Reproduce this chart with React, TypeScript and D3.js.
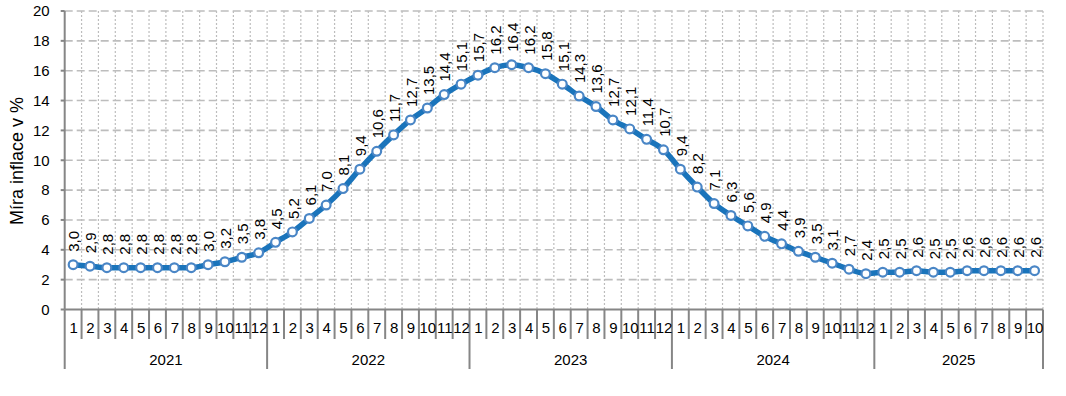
import React from "react";
import * as d3 from "d3";

const years = ["2021", "2022", "2023", "2024", "2025"];
const monthsPerYear = [12, 12, 12, 12, 10];
const inflation = [
  3.0, 2.9, 2.8, 2.8, 2.8, 2.8, 2.8, 2.8, 3.0, 3.2, 3.5, 3.8,
  4.5, 5.2, 6.1, 7.0, 8.1, 9.4, 10.6, 11.7, 12.7, 13.5, 14.4, 15.1,
  15.7, 16.2, 16.4, 16.2, 15.8, 15.1, 14.3, 13.6, 12.7, 12.1, 11.4, 10.7,
  9.4, 8.2, 7.1, 6.3, 5.6, 4.9, 4.4, 3.9, 3.5, 3.1, 2.7, 2.4,
  2.5, 2.5, 2.6, 2.5, 2.5, 2.6, 2.6, 2.6, 2.6, 2.6,
];
const yTicks = [0, 2, 4, 6, 8, 10, 12, 14, 16, 18, 20];
const yTitle = "Míra inflace v %";

const W = 1066;
const H = 396;
const left = 64.7;
const right = 1043;
const top = 11;
const bottom = 309.5;

export default function App() {
  const points = [];
  years.forEach((y, yi) => {
    for (let m = 1; m <= monthsPerYear[yi]; m++) points.push({ year: y, month: m });
  });
  const data = points.map((p, i) => ({ ...p, v: inflation[i], key: i }));

  const x = d3.scaleBand<number>().domain(data.map((d) => d.key)).range([left, right]).padding(0);
  const y = d3.scaleLinear().domain([0, 20]).range([bottom, top]);
  const cx = (i: number) => (x(i) as number) + x.bandwidth() / 2;

  const line = d3.line<any>().x((d) => cx(d.key)).y((d) => y(d.v)).curve(d3.curveMonotoneX);

  const boundaries = d3.range(data.length + 1).map((i) => left + i * x.bandwidth());
  const yearStarts: number[] = [];
  let acc = 0;
  monthsPerYear.forEach((n) => {
    yearStarts.push(acc);
    acc += n;
  });
  yearStarts.push(acc);

  const font = "Liberation Sans, Arial, sans-serif";
  const axisColor = "#868686";
  const gridColor = "#bdbdbd";

  return (
    <svg width={W} height={H} style={{ position: "absolute", left: 0, top: 0 }} fontFamily={font}>
      <rect width={W} height={H} fill="#fff" />
      {/* horizontal dashed grid */}
      {yTicks.filter((t) => t > 0).map((t) => (
        <line key={"h" + t} x1={left} x2={right} y1={y(t)} y2={y(t)} stroke={gridColor} strokeWidth={1.6} strokeDasharray="8,4" />
      ))}
      {/* vertical dotted grid */}
      {boundaries.slice(1).map((b, i) => (
        <line key={"v" + i} x1={b} x2={b} y1={top} y2={bottom} stroke={gridColor} strokeWidth={1.2} strokeDasharray="2,2" />
      ))}
      {/* y axis */}
      <line x1={left} x2={left} y1={top} y2={bottom} stroke={axisColor} strokeWidth={2} />
      {yTicks.map((t) => (
        <g key={"yt" + t}>
          <line x1={left - 4} x2={left} y1={y(t)} y2={y(t)} stroke={axisColor} strokeWidth={2} />
          <text x={left - 15} y={y(t)} dy="0.35em" textAnchor="end" fontSize={15} fill="#000">
            {t}
          </text>
        </g>
      ))}
      <text transform={`translate(23,161) rotate(-90)`} textAnchor="middle" fontSize={18} fill="#000">
        {yTitle}
      </text>
      {/* x axis */}
      <line x1={left} x2={right} y1={bottom} y2={bottom} stroke={axisColor} strokeWidth={2} />
      {boundaries.map((b, i) => {
        const isYear = yearStarts.includes(i);
        return (
          <line key={"xt" + i} x1={b} x2={b} y1={bottom} y2={isYear ? 369 : 339} stroke={axisColor} strokeWidth={2} />
        );
      })}
      {data.map((d) => (
        <text key={"m" + d.key} x={cx(d.key) + 0.5} y={328} dy="0.35em" textAnchor="middle" fontSize={15} fill="#000">
          {d.month}
        </text>
      ))}
      {years.map((yr, i) => (
        <text
          key={"y" + yr}
          x={(left + yearStarts[i] * x.bandwidth() + left + yearStarts[i + 1] * x.bandwidth()) / 2}
          y={360}
          dy="0.35em"
          textAnchor="middle"
          fontSize={15}
          fill="#000"
        >
          {yr}
        </text>
      ))}
      {/* line */}
      <path d={line(data) || ""} fill="none" stroke="#1a74bb" strokeWidth={5.5} strokeLinejoin="round" />
      {data.map((d) => (
        <circle key={"c" + d.key} cx={cx(d.key)} cy={y(d.v)} r={4.4} fill="#fff" stroke="#4a86c6" strokeWidth={2.2} />
      ))}
      {/* data labels */}
      {data.map((d) => (
        <text
          key={"l" + d.key}
          transform={`translate(${cx(d.key) + 1},${y(d.v) - 13}) rotate(-90)`}
          dy="0.35em"
          textAnchor="start"
          fontSize={15}
          fill="#000"
        >
          {d.v.toFixed(1).replace(".", ",")}
        </text>
      ))}
    </svg>
  );
}
